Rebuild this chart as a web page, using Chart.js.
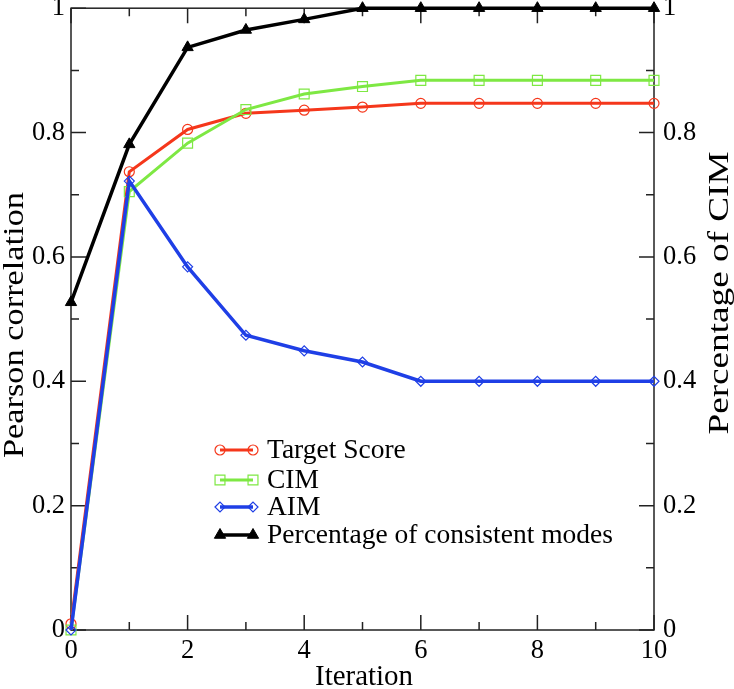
<!DOCTYPE html>
<html><head><meta charset="utf-8">
<script src="https://cdn.jsdelivr.net/npm/chart.js@4"></script>
<style>html,body{margin:0;padding:0;background:#fff;} #wrap{width:734px;height:689px;position:relative;}</style>
</head><body><div id="wrap"><canvas id="c" width="734" height="689"></canvas></div>
<script>
const iterations = [0, 1, 2, 3, 4, 5, 6, 7, 8, 9, 10];
const targetScore = [0.01, 0.737, 0.805, 0.831, 0.836, 0.841, 0.847, 0.847, 0.847, 0.847, 0.847];
const cim = [0.0, 0.705, 0.783, 0.837, 0.862, 0.874, 0.884, 0.884, 0.884, 0.884, 0.884];
const aim = [0.0, 0.722, 0.584, 0.474, 0.449, 0.431, 0.400, 0.400, 0.400, 0.400, 0.400];
const consistentPct = [0.527, 0.781, 0.937, 0.965, 0.982, 1.0, 1.0, 1.0, 1.0, 1.0, 1.0];
const xTicks = [0, 2, 4, 6, 8, 10];
const yTicks = [0, 0.2, 0.4, 0.6, 0.8, 1];
const seriesNames = ['Target Score', 'CIM', 'AIM', 'Percentage of consistent modes'];
const xTitle = 'Iteration';
const yTitle = 'Pearson correlation';
const y2Title = 'Percentage of CIM';

const FONT = "'Liberation Serif', 'Times New Roman', serif";
const pts = vals => iterations.map((x, i) => ({x: x, y: vals[i]}));

const datasets = [
  {label: seriesNames[0], data: pts(targetScore), borderColor: '#f5371b', backgroundColor: 'rgba(0,0,0,0)',
   borderWidth: 3, pointStyle: 'circle', pointRadius: 5, pointBorderWidth: 1.2, pointBorderColor: '#f5371b', pointBackgroundColor: 'rgba(0,0,0,0)', yAxisID: 'y', order: 3},
  {label: seriesNames[1], data: pts(cim), borderColor: '#7ee843', backgroundColor: 'rgba(0,0,0,0)',
   borderWidth: 3, pointStyle: 'rect', pointRadius: 7, pointBorderWidth: 1.2, pointBorderColor: '#7ee843', pointBackgroundColor: 'rgba(0,0,0,0)', yAxisID: 'y', order: 2},
  {label: seriesNames[2], data: pts(aim), borderColor: '#1f3fe6', backgroundColor: 'rgba(0,0,0,0)',
   borderWidth: 3.5, pointStyle: 'rectRot', pointRadius: 5, pointBorderWidth: 1.2, pointBorderColor: '#1f3fe6', pointBackgroundColor: 'rgba(0,0,0,0)', yAxisID: 'y', order: 1},
  {label: seriesNames[3], data: pts(consistentPct), borderColor: '#000', backgroundColor: '#000',
   borderWidth: 3.5, pointStyle: 'triangle', pointRadius: 6.5, pointBorderWidth: 1, pointBorderColor: '#000', pointBackgroundColor: '#000', yAxisID: 'y2', order: 0}
];

const frameTicks = {
  id: 'frameTicks',
  beforeDatasetsDraw(chart) {
    const ctx = chart.ctx, a = chart.chartArea;
    const xs = chart.scales.x, ys = chart.scales.y;
    ctx.save();
    ctx.strokeStyle = '#222'; ctx.lineWidth = 1.5;
    ctx.strokeRect(a.left, a.top, a.right - a.left, a.bottom - a.top);
    const majorL = 15, minorL = 8;
    const xMinor = [], yMinor = [];
    for (let i = 0; i < xTicks.length - 1; i++) xMinor.push((xTicks[i] + xTicks[i + 1]) / 2);
    for (let i = 0; i < yTicks.length - 1; i++) yMinor.push((yTicks[i] + yTicks[i + 1]) / 2);
    ctx.beginPath();
    const xt = (v, L) => { const p = xs.getPixelForValue(v);
      ctx.moveTo(p, a.bottom); ctx.lineTo(p, a.bottom - L);
      ctx.moveTo(p, a.top); ctx.lineTo(p, a.top + L); };
    const yt = (v, L) => { const p = ys.getPixelForValue(v);
      ctx.moveTo(a.left, p); ctx.lineTo(a.left + L, p);
      ctx.moveTo(a.right, p); ctx.lineTo(a.right - L, p); };
    xTicks.forEach(v => xt(v, majorL)); xMinor.forEach(v => xt(v, minorL));
    yTicks.forEach(v => yt(v, majorL)); yMinor.forEach(v => yt(v, minorL));
    ctx.stroke();
    ctx.restore();
  }
};

function drawStretched(ctx, text, cx, cy, rot, targetLen, size) {
  ctx.save();
  ctx.font = size + 'px ' + FONT;
  ctx.fillStyle = '#000';
  ctx.translate(cx, cy); ctx.rotate(rot);
  const w = ctx.measureText(text).width;
  ctx.scale(targetLen / w, 1);
  ctx.textAlign = 'center'; ctx.textBaseline = 'alphabetic';
  ctx.fillText(text, 0, 0);
  ctx.restore();
}

const titlesLegend = {
  id: 'titlesLegend',
  afterDraw(chart) {
    const ctx = chart.ctx;
    drawStretched(ctx, yTitle, 23, 325, -Math.PI / 2, 266, 29);
    drawStretched(ctx, y2Title, 728, 293, -Math.PI / 2, 283, 30);
    drawStretched(ctx, xTitle, 364, 685, 0, 98, 29);
    // legend
    const rows = [450, 480, 507, 535];
    const x1 = 220, x2 = 253, tx = 267;
    chart.data.datasets.forEach((ds, i) => {
      const y = rows[i];
      ctx.save();
      ctx.strokeStyle = ds.borderColor; ctx.lineWidth = ds.borderWidth;
      ctx.beginPath(); ctx.moveTo(x1, y); ctx.lineTo(x2, y); ctx.stroke();
      const opts = {pointStyle: ds.pointStyle, radius: ds.pointRadius, rotation: 0, borderWidth: ds.pointBorderWidth};
      ctx.strokeStyle = ds.pointBorderColor; ctx.fillStyle = ds.pointBackgroundColor; ctx.lineWidth = ds.pointBorderWidth;
      Chart.helpers.drawPoint(ctx, opts, x1, y);
      ctx.strokeStyle = ds.pointBorderColor; ctx.fillStyle = ds.pointBackgroundColor; ctx.lineWidth = ds.pointBorderWidth;
      Chart.helpers.drawPoint(ctx, opts, x2, y);
      ctx.fillStyle = '#000';
      ctx.font = '27.5px ' + FONT;
      ctx.textAlign = 'left'; ctx.textBaseline = 'alphabetic';
      ctx.fillText(ds.label, tx, y + 8);
      ctx.restore();
    });
  }
};

const tickFont = {family: FONT, size: 26.5};
new Chart(document.getElementById('c'), {
  type: 'line',
  data: {datasets: datasets},
  options: {
    responsive: false,
    animation: false,
    layout: {padding: {top: 8, left: 0, right: 0, bottom: 0}},
    plugins: {legend: {display: false}, tooltip: {enabled: false}},
    elements: {line: {tension: 0}},
    datasets: {line: {clip: false}},
    scales: {
      x: {type: 'linear', min: 0, max: 10, position: 'bottom',
        grid: {display: false, drawTicks: false}, border: {display: false},
        afterBuildTicks: s => { s.ticks = xTicks.map(v => ({value: v})); },
        ticks: {font: tickFont, color: '#000', padding: 5, maxRotation: 0, callback: v => String(v)},
        afterFit: s => { s.height = 59; s.paddingLeft = 0; s.paddingRight = 0; }},
      y: {type: 'linear', min: 0, max: 1, position: 'left',
        grid: {display: false, drawTicks: false}, border: {display: false},
        afterBuildTicks: s => { s.ticks = yTicks.map(v => ({value: v})); },
        ticks: {font: tickFont, color: '#000', padding: 6, callback: v => String(v)},
        afterFit: s => { s.width = 71; s.paddingTop = 0; s.paddingBottom = 0; }},
      y2: {type: 'linear', min: 0, max: 1, position: 'right',
        grid: {display: false, drawTicks: false}, border: {display: false},
        afterBuildTicks: s => { s.ticks = yTicks.map(v => ({value: v})); },
        ticks: {font: tickFont, color: '#000', padding: 9, callback: v => String(v)},
        afterFit: s => { s.width = 80; s.paddingTop = 0; s.paddingBottom = 0; }}
    }
  },
  plugins: [frameTicks, titlesLegend]
});
</script></body></html>
